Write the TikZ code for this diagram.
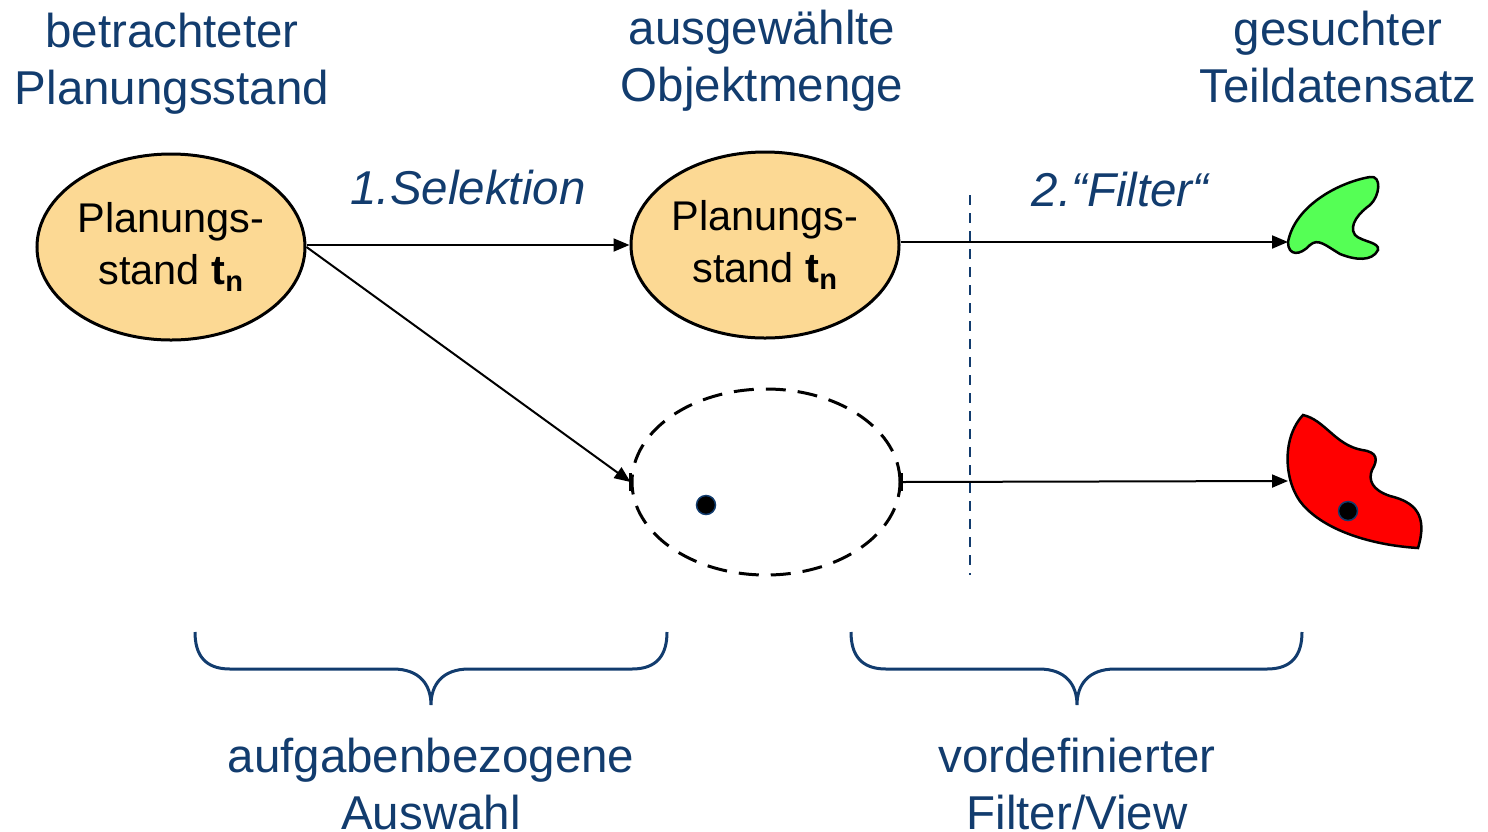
\documentclass[tikz,border=0pt]{standalone}
\usepackage{fontspec}
\setmainfont{Liberation Sans}
\usetikzlibrary{arrows.meta,shapes.geometric}
\definecolor{navy}{HTML}{123C6E}
\definecolor{ellfill}{HTML}{FCD994}
\definecolor{shapegreen}{HTML}{55FF55}
\definecolor{shapered}{HTML}{FF0000}
\tikzset{
  ell/.style={ellipse, draw=black, line width=3pt, minimum width=268pt, minimum height=186pt, inner sep=0pt},
  ellplan/.style={ell, fill=ellfill, align=center, font=\fontsize{41.5}{52}\selectfont},
  elldash/.style={ell, dash pattern=on 20pt off 12pt},
  lbl/.style={text=navy, align=center, font=\fontsize{47.5}{57}\selectfont, inner sep=0pt},
  steplbl/.style={text=navy, font=\fontsize{47.5}{57}\selectfont\itshape, inner sep=0pt},
  conn/.style={line width=2pt, -{Triangle[length=16pt,width=13pt]}},
  brace/.style={draw=navy, line width=3pt},
  vdash/.style={draw=navy, line width=2.5pt, dash pattern=on 10pt off 8pt},
  dotm/.style={circle, fill=black, draw=navy, line width=1.5pt, minimum size=19pt, inner sep=0pt},
  blob/.style={draw=black, line width=2.5pt}
}
\begin{document}
\begin{tikzpicture}[x=1pt,y=-1pt]
\useasboundingbox (0,0) rectangle (1488,831);
% top labels
\node[lbl] (l1) at (172,64) {betrachteter\\Planungsstand};
\node[lbl] (l2) at (762,61) {ausgewählte\\Objektmenge};
\node[lbl] (l3) at (1338,57) {gesuchter\\Teildatensatz};
% ellipses
\node[ellplan] (e1) at (171,247) {Planungs-\\stand $\mathbf{t_n}$};
\node[ellplan] (e2) at (765,245) {Planungs-\\stand $\mathbf{t_n}$};
\node[elldash] (e3) at (766,482) {};
\node[dotm] (d1) at (706,505) {};
\draw[line width=2.5pt] ([yshift=-9pt]e3.west) -- ([yshift=9pt]e3.west);
\draw[line width=2.5pt] ([yshift=-9pt]e3.east) -- ([yshift=9pt]e3.east);
% dashed vertical
\coordinate (vt) at (970,195);
\coordinate (vb) at (970,575);
\draw[vdash] (vt) -- (vb);
% blobs
\draw[blob, fill=shapegreen] (1288,242) .. controls (1288,256) and (1300,256) .. (1310,245)
  .. controls (1318,238) and (1325,245) .. (1340,254)
  .. controls (1355,260) and (1372,262) .. (1378,250)
  .. controls (1380,242) and (1362,242) .. (1355,235)
  .. controls (1348,225) and (1360,212) .. (1370,205)
  .. controls (1380,196) and (1382,175) .. (1370,177)
  .. controls (1340,182) and (1295,205) .. (1288,242) -- cycle;
\coordinate (g) at (1288,242);
\draw[blob, fill=shapered] (1303,415) .. controls (1325,420) and (1335,445) .. (1362,450)
  .. controls (1378,452) and (1378,460) .. (1372,470)
  .. controls (1368,480) and (1372,490) .. (1390,496)
  .. controls (1415,502) and (1428,515) .. (1418,548)
  .. controls (1370,545) and (1325,530) .. (1303,505)
  .. controls (1285,485) and (1280,440) .. (1303,415) -- cycle;
\coordinate (r) at (1288,481);
\node[dotm] (d2) at (1348,511) {};
% connectors
\draw[conn] (e1.east |- e2.west) -- node[steplbl, above=39pt] {1.Selektion} (e2.west);
\draw[conn] (e1.east) -- (e3.west);
\draw[conn] (e2.east |- 0,242) -- (g);
\draw[conn] (e3.east) -- (r);
\node[steplbl] (f) at (1120,190) {2.“Filter“};
% braces
\draw[brace] (195,632) .. controls (195,655) and (205,669) .. (230,669) -- (393,669)
  .. controls (420,669) and (431,685) .. (431,705)
  .. controls (431,685) and (442,669) .. (469,669) -- (632,669)
  .. controls (657,669) and (667,655) .. (667,632);
\draw[brace] (851,632) .. controls (851,655) and (861,669) .. (886,669) -- (1039,669)
  .. controls (1066,669) and (1077,685) .. (1077,705)
  .. controls (1077,685) and (1088,669) .. (1115,669) -- (1267,669)
  .. controls (1292,669) and (1302,655) .. (1302,632);
% bottom labels
\node[lbl] (b1) at (431,784) {aufgabenbezogene\\Auswahl};
\node[lbl] (b2) at (1077,784) {vordefinierter\\Filter/View};
\end{tikzpicture}
\end{document}
